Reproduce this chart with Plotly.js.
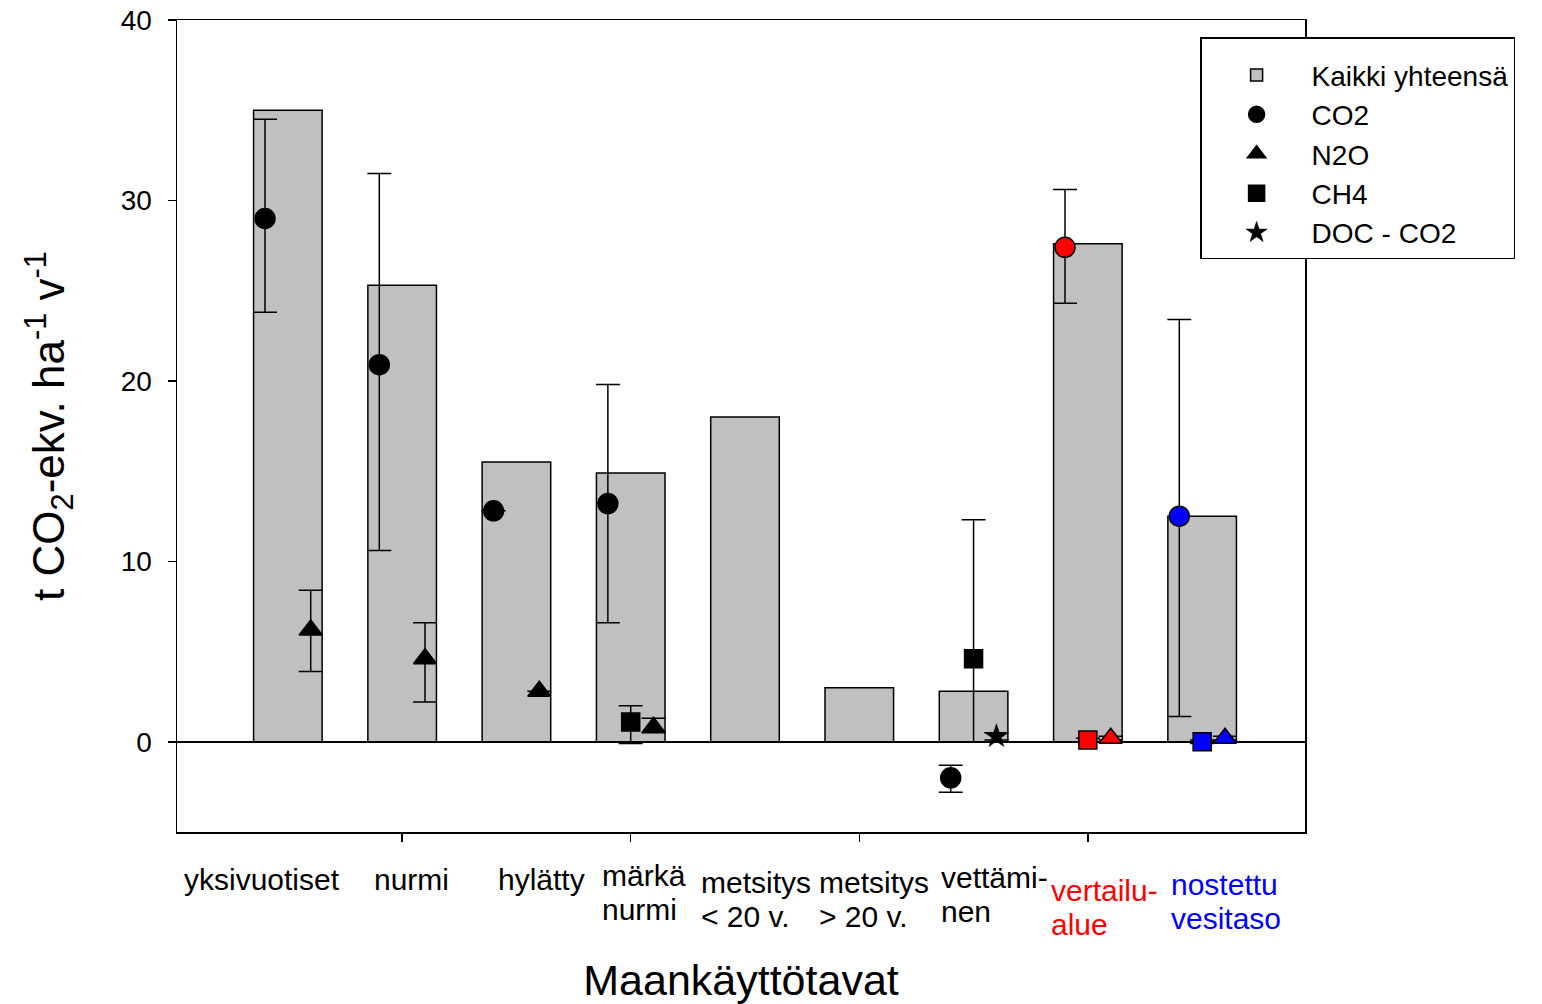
<!DOCTYPE html>
<html>
<head>
<meta charset="utf-8">
<script src="https://cdn.plot.ly/plotly-3.0.1.min.js"></script>
<style>html,body{margin:0;padding:0;background:#fff;}#chart{width:1542px;height:1004px;}</style>
</head>
<body>
<div id="chart"></div>
<script>
// ---- data ----
const categories = ["yksivuotiset", "nurmi", "hylätty", "märkä<br>nurmi", "metsitys<br>< 20 v.", "metsitys<br>> 20 v.", "vettämi-<br>nen", "vertailu-<br>alue", "nostettu<br>vesitaso"];
const totalAll = [35.0, 25.3, 15.5, 14.9, 18.0, 3.0, 2.8, 27.6, 12.5];

const co2 = [29.0, 20.9, 12.8, 13.2, null, null, -2.0, 27.4, 12.5];
const co2ErrPlus = [5.5, 10.6, null, 6.6, null, null, 0.7, 3.2, 10.9];
const co2ErrMinus = [5.2, 10.3, null, 6.6, null, null, 0.8, 3.1, 11.1];

const n2o = [6.2, 4.6, 2.8, 0.8, null, null, null, 0.2, 0.2];
const n2oErrPlus = [2.2, 2.0, null, 0.5, null, null, null, 0.1, 0.1];
const n2oErrMinus = [2.3, 2.4, null, 0.3, null, null, null, 0.1, 0.1];

const ch4 = [null, null, null, 1.1, null, null, 4.6, 0.1, 0.0];
const ch4ErrPlus = [null, null, null, 0.9, null, null, 7.7, 0.1, 0.1];
const ch4ErrMinus = [null, null, null, 1.2, null, null, 4.6, 0.1, 0.1];

const doc = [null, null, null, null, null, null, 0.3, null, null];
const docErr = [null, null, null, null, null, null, 0.2, null, null];

const yTickVals = [0, 10, 20, 30, 40];
const xTickVals = [1, 3, 5, 7];

// ---- styles ----
const pointColors = ["#000", "#000", "#000", "#000", "#000", "#000", "#000", "#ff0000", "#0000ff"];
const labelColors = ["#000", "#000", "#000", "#000", "#000", "#000", "#000", "#ff0000", "#0000ff"];
const labelXShift = [-106, -30, -20, -31, -46, -42, -35, -39, -33];
const labelLine1Y = [879, 879, 879, 875, 882, 882, 877, 890, 884]; // px centre of first line
const LINE_GAP = 34;
const PLOT_BOTTOM = 832;
const offCO2 = -0.2, offCH4 = 0, offN2O = 0.2, offDOC = 0.2;
const FONT = "Liberation Sans, Arial, sans-serif";

const idx = categories.map((_, i) => i);
const shifted = off => idx.map(i => i + off);

function errBar(plus, minus) {
  return {type: "data", symmetric: false, array: plus, arrayminus: minus,
          color: "#000", thickness: 1.5, width: 12, visible: true};
}
const mline = {color: "#000", width: 1.5};

const traces = [
  {type: "bar", name: "Kaikki yhteensä", x: idx, y: totalAll, width: 0.6,
   marker: {color: "#c0c0c0", line: {color: "#000", width: 1.5}}},
  {type: "scatter", mode: "markers", name: "CO2", x: shifted(offCO2), y: co2,
   marker: {symbol: "circle", size: 20, color: pointColors, line: mline},
   error_y: errBar(co2ErrPlus, co2ErrMinus)},
  {type: "scatter", mode: "markers", name: "N2O", x: shifted(offN2O), y: n2o,
   marker: {symbol: "triangle-up", size: 20, color: pointColors, line: mline},
   error_y: errBar(n2oErrPlus, n2oErrMinus)},
  {type: "scatter", mode: "markers", name: "CH4", x: shifted(offCH4), y: ch4,
   marker: {symbol: "square", size: 18, color: pointColors, line: mline},
   error_y: errBar(ch4ErrPlus, ch4ErrMinus)},
  {type: "scatter", mode: "markers", name: "DOC - CO2", x: shifted(offDOC), y: doc,
   marker: {symbol: "star", size: 18, color: pointColors, line: {color: "#000", width: 0.5}},
   error_y: errBar(docErr, docErr)}
];

const annotations = [];
categories.forEach((c, i) => {
  c.split("<br>").forEach((line, k) => {
    annotations.push({
      x: i, y: 0, xref: "x", yref: "paper", text: line, showarrow: false,
      xanchor: "left", yanchor: "middle", align: "left",
      xshift: labelXShift[i], yshift: -(labelLine1Y[i] + k * LINE_GAP - PLOT_BOTTOM),
      font: {family: FONT, size: 30, color: labelColors[i]}
    });
  });
});

const layout = {
  width: 1542, height: 1004,
  margin: {l: 177, r: 237, t: 20, b: 172, autoexpand: false},
  paper_bgcolor: "#fff", plot_bgcolor: "#fff",
  font: {family: FONT, size: 28, color: "#000"},
  showlegend: true,
  legend: {x: 0.907, y: 0.979, xanchor: "left", yanchor: "top",
           bgcolor: "#fff", bordercolor: "#000", borderwidth: 1.5,
           font: {family: FONT, size: 28, color: "#000"}, itemwidth: 100,
           title: {text: " ", font: {family: FONT, size: 9}},
           traceorder: "normal"},
  xaxis: {range: [-0.97, 8.9], tickvals: xTickVals, ticktext: xTickVals.map(() => ""),
          ticks: "outside", ticklen: 8, tickwidth: 1.5, tickcolor: "#000",
          showline: true, mirror: true, linecolor: "#000", linewidth: 1.5,
          showgrid: false, zeroline: false,
          title: {text: "Maankäyttötavat", font: {family: FONT, size: 43}, standoff: 119}},
  yaxis: {range: [-5, 40], tickvals: yTickVals,
          ticks: "outside", ticklen: 8, tickwidth: 1.5, tickcolor: "#000",
          ticklabelstandoff: 10,
          showline: true, mirror: true, linecolor: "#000", linewidth: 1.5,
          showgrid: false, zeroline: true, zerolinecolor: "#000", zerolinewidth: 1.5,
          tickfont: {family: FONT, size: 28},
          title: {text: "t CO<sub>2</sub>-ekv. ha<sup>-1</sup> v<sup>-1</sup>", font: {family: FONT, size: 44}, standoff: 42}},
  annotations: annotations
};

Plotly.newPlot("chart", traces, layout, {displayModeBar: false, staticPlot: true});
</script>
</body>
</html>
